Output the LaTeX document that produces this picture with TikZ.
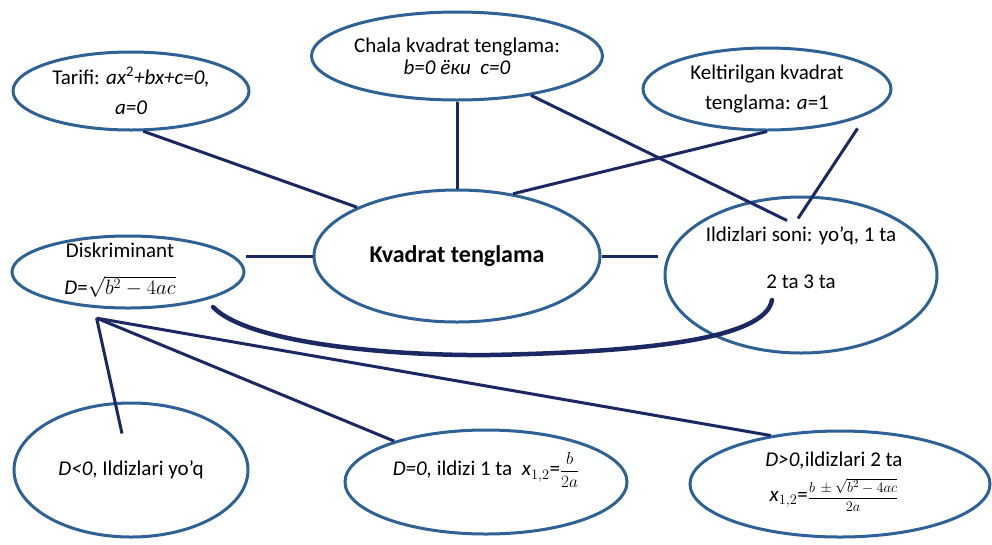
\documentclass[tikz,border=0pt]{standalone}
\usepackage{fontspec}
\setmainfont{Carlito}
\usepackage{tikz}
\usetikzlibrary{shapes.geometric, positioning}
\definecolor{ovalblue}{RGB}{46,98,150}
\definecolor{linknavy}{RGB}{28,40,100}

\begin{document}
\begin{tikzpicture}[x=1pt, y=-1pt,
    oval/.style={draw=ovalblue, ellipse, line width=3pt, fill=white, inner sep=0pt, align=center, font=\fontsize{21}{28}\selectfont},
    txt/.style={align=center, inner sep=0pt, font=\fontsize{21}{28}\selectfont},
    link/.style={draw=linknavy, line width=3pt}]
    \useasboundingbox (0,0) rectangle (992,544);

    % ovals
    \node[oval, minimum width=236, minimum height=78] (tarifi) at (131,91) {Tarifi: \textit{ax}\textsuperscript{2}\textit{+bx+c=0,}\\[2pt] \textit{a=0}};
    \node[oval, minimum width=280, minimum height=88] (chala) at (457,56) {Chala kvadrat tenglama:\\[-6pt] \textit{b=0 ёки \ c=0}};
    \node[oval, minimum width=248, minimum height=82] (kel) at (767,89) {Keltirilgan kvadrat\\[2pt] tenglama: \textit{a}=1};
    \node[oval, minimum width=286, minimum height=132, font=\fontsize{24}{28}\selectfont\bfseries] (kv) at (457,256) {Kvadrat tenglama};
    \node[oval, minimum width=232, minimum height=72] (disk) at (128,272) {};
    \node[oval, minimum width=272, minimum height=156] (ildiz) at (801,275) {};
    \node[oval, minimum width=234, minimum height=134] (dneg) at (131,470) {\textit{D<0}, Ildizlari yo’q};
    \node[oval, minimum width=282, minimum height=104] (dzero) at (486,482) {};
    \node[oval, minimum width=300, minimum height=106] (dpos) at (840,484) {};

    % texts set off the centre
    \node[txt] (diskT) at ([shift={(-8,-2)}]disk.center) {Diskriminant\\[9pt] \textit{D}=$\sqrt{b^2-4ac}$};
    \node[txt] (ildizT) at ([yshift=17pt]ildiz.center) {Ildizlari soni: yo’q, 1 ta\\[19pt] 2 ta 3 ta};
    \node[txt] (dzeroT) at ([yshift=12pt]dzero.center) {\textit{D=0,} ildizi 1 ta \ \textit{x}$_{1,2}$={\fontsize{16}{18}\selectfont$\displaystyle\frac{b}{2a}$}};
    \node[txt] (dposT) at ([shift={(-6,-2)}]dpos.center) {\textit{D>0,}ildizlari 2 ta\\[7pt] \textit{x}$_{1,2}$={\fontsize{15}{18}\selectfont$\displaystyle\frac{b\,\pm\sqrt{b^2-4ac}}{2a}$}};

    % links
    \draw[link] (tarifi.-73) -- (kv.154);
    \draw[link] (chala.south) -- (kv.north);
    \draw[link] (chala.-28) -- ([shift={(-14,25)}]ildiz.north);
    \draw[link] (kel.south) -- (kv.48);
    \draw[link] ([yshift=-10pt]kel.-18) -- ([shift={(-3,23)}]ildiz.north);
    \draw[link] (kv.west) -- (kv.west -| disk.east);
    \draw[link] (kv.east) -- ([xshift=-6pt]kv.east -| ildiz.west);
    \draw[link, line width=4.5pt, line cap=round] ([shift={(85,35)}]disk.center)
        .. controls (250,345) and (400,356) .. (490,355)
        .. controls (640,352) and (765,340) .. ([shift={(-29,25)}]ildiz.center);

    \coordinate (dsrc) at ([yshift=-10pt]disk.-131);
    \draw[link] (dsrc) -- ([shift={(-9,32)}]dneg.north);
    \draw[link] (dsrc) -- (dzero.156);
    \draw[link] (dsrc) -- (dpos.145);
\end{tikzpicture}
\end{document}
